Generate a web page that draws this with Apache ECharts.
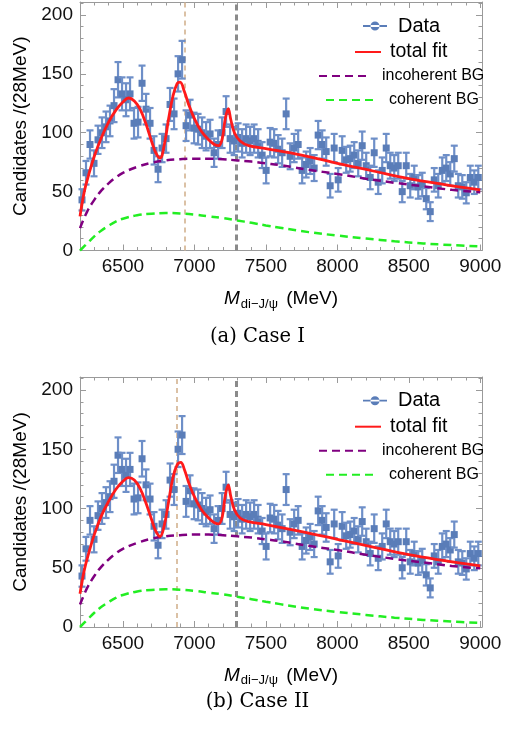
<!DOCTYPE html>
<html><head><meta charset="utf-8">
<script src="https://cdn.jsdelivr.net/npm/echarts@6/dist/echarts.min.js"></script>
<style>html,body{margin:0;padding:0;background:#fff}#c{width:525px;height:730px}</style>
</head><body><div id="c"></div>
<script>
// ---- data ----
const massBins = [6214,6242,6270,6298,6326,6354,6382,6410,6438,6466,6494,6522,6550,6578,6606,6634,6662,6690,6718,6746,
6774,6802,6830,6858,6886,6914,6942,6970,6998,7026,7054,7082,7110,7138,7166,7194,7222,7250,7278,7306,
7334,7362,7390,7418,7446,7474,7502,7530,7558,7586,7614,7642,7670,7698,7726,7754,7782,7810,7838,7866,
7894,7922,7950,7978,8006,8034,8062,8090,8118,8146,8174,8202,8230,8258,8286,8314,8342,8370,8398,8426,
8454,8482,8510,8538,8566,8594,8622,8650,8678,8706,8734,8762,8790,8818,8846,8874,8902,8930,8958,8986];
const counts = [43,66,90,74,94,100,105,110,123,145,133,128,133,108,109,142,120,108,85,69,
87,95,124,116,150,162,106,115,104,103,100,97,99,83,90,100,118,95,93,96,
91,95,93,95,91,81,68,92,91,86,83,116,80,87,90,68,73,76,70,98,
90,84,55,87,60,85,77,78,81,74,89,72,62,83,58,68,87,72,70,72,
50,72,55,62,54,56,44,33,60,55,68,70,65,78,55,54,49,62,58,62];
const countErr = [9,10,12,11,12,13,13,13,14,15,14,14,14,13,13,15,13,13,12,11,
12,12,14,13,15,16,13,13,13,13,13,12,12,12,12,13,13,12,12,12,
12,12,12,12,12,11,11,12,12,12,12,13,11,12,12,11,11,11,11,12,
12,12,10,12,10,12,11,11,11,11,12,11,10,12,10,11,12,11,11,11,
9,11,10,10,10,10,9,8,10,10,11,11,10,11,10,10,9,10,10,10];

const fitMassA = [6200,6230,6260,6300,6350,6400,6450,6500,6540,6580,6620,6660,6700,6730,6760,6790,6820,6850,6880,6900,6930,6960,7000,7050,7100,7140,7170,7195,7215,7237,7255,7280,7320,7380,7500,7750,8000,8250,8500,8750,9000];
const totalFitA = [29,50,64,80,96,109,119,126,129.5,127,120,108,93,83,78.5,90,112,131,142,143,135,124,112,101,94,90,89,95,111,120.5,111,100,93,89,86.5,81,74,67.5,61,56,51.5];
const fitMassB = [6200,6230,6260,6300,6350,6400,6450,6500,6540,6580,6620,6660,6700,6730,6760,6790,6820,6850,6880,6905,6930,6960,7000,7050,7100,7140,7170,7195,7215,7237,7255,7280,7320,7380,7500,7750,8000,8250,8500,8750,9000];
const totalFitB = [28,48,62,78,94,106,116,123,126,124,117,105,91,81,76.5,86,106,126,137,139,133,122,110,99,92,88,87,93,110,120,110,99,92,89,86.5,80.5,74,67.5,61,56,51.5];
const bgMass = [6200,6250,6300,6350,6400,6450,6500,6600,6700,6800,6900,7000,7100,7200,7300,7400,7500,7600,7700,7800,8000,8200,8400,8600,8800,9000];
const incoherentBG = [19,33,43,51,57,62,66,71,74.5,76.5,77.5,78,78,77.5,76.5,75.5,74,72.5,70.5,68.5,65,61,57.5,54.5,51.5,49.5];
const cohMass = [6200,6250,6300,6350,6400,6450,6500,6600,6700,6800,6900,7000,7100,7200,7300,7400,7500,7600,7800,8000,8200,8400,8600,8800,9000];
const coherentBG = [0,6,12,17,21,24.5,27,30,31.3,31.8,31.5,30.5,29,27.5,25.5,23.5,21.3,19.3,15.6,12.7,10.2,7.9,6.0,4.6,3.4];

const tanLineA = 6930, tanLineB = 6877, grayLine = 7296;
const xMajorTicks = [6500,7000,7500,8000,8500,9000];
const xMinorTicks = [6300,6400,6600,6700,6800,6900,7100,7200,7300,7400,7600,7700,7800,7900,8100,8200,8300,8400,8600,8700,8800,8900];
const yMajorTicks = [0,50,100,150,200];
const yMinorTicks = [10,20,30,40,60,70,80,90,110,120,130,140,160,170,180,190,210];

// ---- chart ----
const FONT = '"Liberation Sans", Arial, sans-serif';
const FRAME = '#9a9a9a';
const BAR = '#6e8fc8', MARK = '#5a7db8';
const grids = [
  {left:80, top:2, width:402, height:248.5},
  {left:80, top:377, width:402, height:250}
];
const plain = v => String(v);
const xAxes = [], yAxes = [];
grids.forEach((g, gi) => {
  const base = {type:'value', gridIndex:gi, min:6200, max:9012, splitLine:{show:false}};
  xAxes.push(Object.assign({}, base, {position:'bottom',
    axisLine:{show:true, onZero:false, lineStyle:{color:FRAME, width:1}},
    axisTick:{show:true, inside:true, length:6, customValues:xMajorTicks, lineStyle:{color:FRAME}},
    axisLabel:{show:true, customValues:xMajorTicks, formatter:plain, fontSize:19, color:'#111', fontFamily:FONT, margin:7},
    name:'{m|M}{s|di\u2212J/\u03c8}{n| (MeV)}', nameLocation:'middle', nameGap:37,
    nameTextStyle:{rich:{
      m:{fontSize:19, fontStyle:'italic', fontFamily:FONT, color:'#000'},
      s:{fontSize:13, fontFamily:FONT, color:'#000', padding:[10,0,0,1]},
      n:{fontSize:19, fontFamily:FONT, color:'#000', padding:[0,0,0,3]}}}}));
  xAxes.push(Object.assign({}, base, {position:'bottom', axisLine:{show:false, onZero:false},
    axisTick:{show:true, inside:true, length:3.5, customValues:xMinorTicks, lineStyle:{color:FRAME}},
    axisLabel:{show:false}}));
  xAxes.push(Object.assign({}, base, {position:'top', axisLine:{show:true, onZero:false, lineStyle:{color:FRAME, width:1}},
    axisTick:{show:true, inside:true, length:6, customValues:xMajorTicks, lineStyle:{color:FRAME}},
    axisLabel:{show:false}}));
  xAxes.push(Object.assign({}, base, {position:'top', axisLine:{show:false, onZero:false},
    axisTick:{show:true, inside:true, length:3.5, customValues:xMinorTicks, lineStyle:{color:FRAME}},
    axisLabel:{show:false}}));

  const ybase = {type:'value', gridIndex:gi, min:0, max:211, splitLine:{show:false}};
  yAxes.push(Object.assign({}, ybase, {position:'left',
    axisLine:{show:true, onZero:false, lineStyle:{color:FRAME, width:1}},
    axisTick:{show:true, inside:true, length:6, customValues:yMajorTicks, lineStyle:{color:FRAME}},
    axisLabel:{show:true, customValues:yMajorTicks, formatter:plain, fontSize:19, color:'#111', fontFamily:FONT, margin:7},
    name:'Candidates /(28MeV)', nameLocation:'middle', nameRotate:90, nameGap:46,
    nameTextStyle:{fontSize:19, fontFamily:FONT, color:'#000'}}));
  yAxes.push(Object.assign({}, ybase, {position:'left', axisLine:{show:false, onZero:false},
    axisTick:{show:true, inside:true, length:3.5, customValues:yMinorTicks, lineStyle:{color:FRAME}},
    axisLabel:{show:false}}));
  yAxes.push(Object.assign({}, ybase, {position:'right', axisLine:{show:true, onZero:false, lineStyle:{color:FRAME, width:1}},
    axisTick:{show:true, inside:true, length:6, customValues:yMajorTicks, lineStyle:{color:FRAME}},
    axisLabel:{show:false}}));
  yAxes.push(Object.assign({}, ybase, {position:'right', axisLine:{show:false, onZero:false},
    axisTick:{show:true, inside:true, length:3.5, customValues:yMinorTicks, lineStyle:{color:FRAME}},
    axisLabel:{show:false}}));
});

const dataPts = massBins.map((m, i) => [m, counts[i], countErr[i]]);
function renderErr(params, api) {
  const x = api.value(0), y = api.value(1), e = api.value(2);
  const p = api.coord([x, y]), lo = api.coord([x, y - e]), hi = api.coord([x, y + e]);
  const cw = 3.5, st = {stroke: BAR, lineWidth: 2.2};
  return {type:'group', children:[
    {type:'line', shape:{x1:p[0], y1:hi[1], x2:p[0], y2:lo[1]}, style:st},
    {type:'line', shape:{x1:p[0]-cw, y1:hi[1], x2:p[0]+cw, y2:hi[1]}, style:st},
    {type:'line', shape:{x1:p[0]-cw, y1:lo[1], x2:p[0]+cw, y2:lo[1]}, style:st},
    {type:'rect', shape:{x:p[0]-3.5, y:p[1]-3.5, width:7, height:7}, style:{fill:MARK}}
  ]};
}
const pairs = (xs, ys) => xs.map((x, i) => [x, ys[i]]);

const series = [];
[[fitMassA, totalFitA, tanLineA], [fitMassB, totalFitB, tanLineB]].forEach(([fx, fy, tan], gi) => {
  const xi = gi * 4, yi = gi * 4;
  series.push({name:'Data', type:'custom', xAxisIndex:xi, yAxisIndex:yi, renderItem:renderErr,
    data:dataPts, itemStyle:{color:MARK}, z:3, clip:false});
  series.push({name:'coherent BG', type:'line', xAxisIndex:xi, yAxisIndex:yi, data:pairs(cohMass, coherentBG),
    smooth:0.4, symbol:'none', lineStyle:{color:'#22ee22', width:2.5, type:[8,5]}, itemStyle:{color:'#22ee22'}, z:4});
  series.push({name:'incoherent BG', type:'line', xAxisIndex:xi, yAxisIndex:yi, data:pairs(bgMass, incoherentBG),
    smooth:0.4, symbol:'none', lineStyle:{color:'#800080', width:2.5, type:[8,5]}, itemStyle:{color:'#800080'}, z:4,
    markLine:{symbol:'none', silent:true, label:{show:false}, z:2, data:[
      {xAxis:tan, lineStyle:{color:'#d8bb9c', width:1.8, type:[5,4]}},
      {xAxis:grayLine, lineStyle:{color:'#8a8a8a', width:3, type:[6,4]}}]}});
  series.push({name:'total fit', type:'line', xAxisIndex:xi, yAxisIndex:yi, data:pairs(fx, fy),
    smooth:0.4, symbol:'none', lineStyle:{color:'#ff1a1a', width:2.8}, itemStyle:{color:'#ff1a1a'}, z:5});
});

const dataIcon = 'path://M0,4.1L24,4.1L24,5.9L0,5.9Z M7.5,5A4.5,4.5 0 1,0 16.5,5A4.5,4.5 0 1,0 7.5,5Z';
const noSym = {opacity:0};
const legends = [];
[0, 374.7].forEach(off => {
  legends.push({selectedMode:false, padding:0, left:363, top:16+off, itemWidth:24, itemHeight:10,
    data:[{name:'Data', icon:dataIcon}], textStyle:{fontSize:20, fontFamily:FONT, color:'#000', padding:[0,0,0,6]}});
  legends.push({selectedMode:false, padding:0, left:354, top:42+off, itemWidth:26, itemHeight:10,
    data:[{name:'total fit', itemStyle:noSym}], textStyle:{fontSize:19.5, fontFamily:FONT, color:'#000', padding:[0,0,0,4]}});
  legends.push({selectedMode:false, padding:0, left:318, top:68+off, itemWidth:51, itemHeight:10,
    data:[{name:'incoherent BG', itemStyle:noSym}], textStyle:{fontSize:16, fontFamily:FONT, color:'#000', padding:[0,0,0,7]}});
  legends.push({selectedMode:false, padding:0, left:325, top:92+off, itemWidth:51, itemHeight:10,
    data:[{name:'coherent BG', itemStyle:noSym}], textStyle:{fontSize:16, fontFamily:FONT, color:'#000', padding:[0,0,0,7]}});
});

const chart = echarts.init(document.getElementById('c'), null, {renderer:'canvas'});
chart.setOption({
  animation:false,
  backgroundColor:'#fff',
  grid:grids,
  xAxis:xAxes,
  yAxis:yAxes,
  legend:legends,
  series:series,
  graphic:[
    {type:'text', x:257.5, y:337, style:{text:'(a) Case I', font:'19.5px "DejaVu Serif", serif', fill:'#000', textAlign:'center', textVerticalAlign:'middle'}},
    {type:'text', x:257.5, y:702, style:{text:'(b) Case II', font:'19.5px "DejaVu Serif", serif', fill:'#000', textAlign:'center', textVerticalAlign:'middle'}}
  ]
});
</script></body></html>
